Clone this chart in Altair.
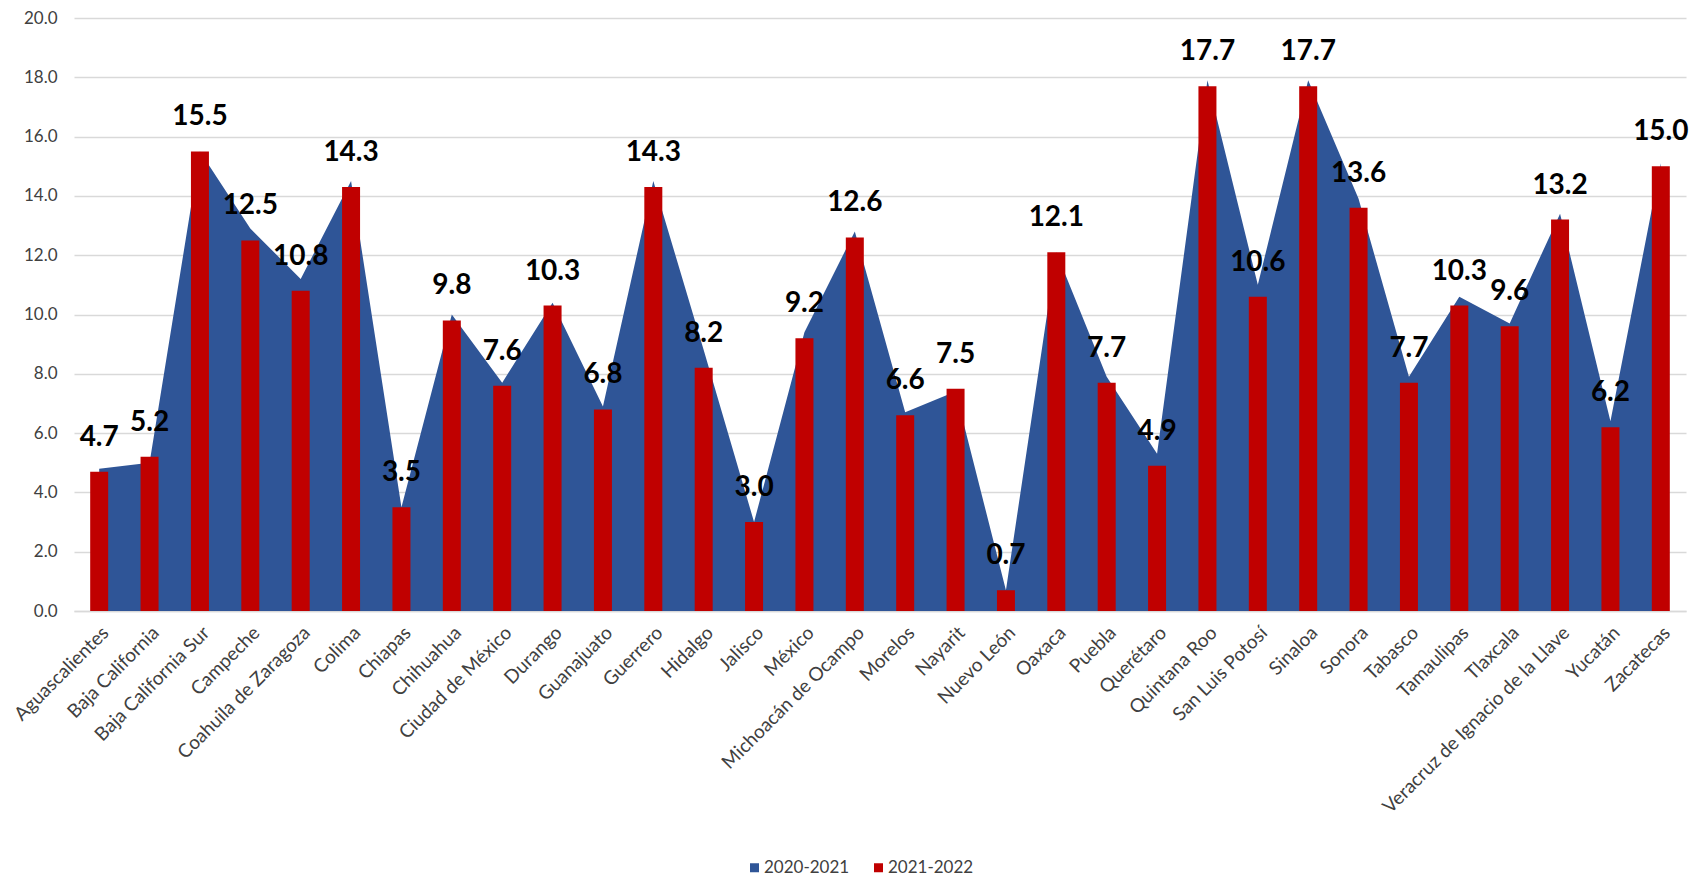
import altair as alt
import pandas as pd

states = ["Aguascalientes", "Baja California", "Baja California Sur", "Campeche",
          "Coahuila de Zaragoza", "Colima", "Chiapas", "Chihuahua", "Ciudad de México",
          "Durango", "Guanajuato", "Guerrero", "Hidalgo", "Jalisco", "México",
          "Michoacán de Ocampo", "Morelos", "Nayarit", "Nuevo León", "Oaxaca", "Puebla",
          "Querétaro", "Quintana Roo", "San Luis Potosí", "Sinaloa", "Sonora", "Tabasco",
          "Tamaulipas", "Tlaxcala", "Veracruz de Ignacio de la Llave", "Yucatán", "Zacatecas"]

v2020_2021 = [4.8, 5.0, 15.5, 12.9, 11.2, 14.5, 3.5, 10.0, 7.7, 10.4, 6.9, 14.5, 8.8, 3.0,
              9.4, 12.8, 6.7, 7.4, 0.7, 12.1, 7.9, 5.3, 17.9, 11.0, 17.9, 13.9, 7.9, 10.6,
              9.7, 13.4, 6.4, 15.1]

v2021_2022 = [4.7, 5.2, 15.5, 12.5, 10.8, 14.3, 3.5, 9.8, 7.6, 10.3, 6.8, 14.3, 8.2, 3.0,
              9.2, 12.6, 6.6, 7.5, 0.7, 12.1, 7.7, 4.9, 17.7, 10.6, 17.7, 13.6, 7.7, 10.3,
              9.6, 13.2, 6.2, 15.0]

series_names = ["2020-2021", "2021-2022"]
y_ticks = [0, 2, 4, 6, 8, 10, 12, 14, 16, 18, 20]

rows = []
for s, a, b in zip(states, v2020_2021, v2021_2022):
    rows.append({"estado": s, "serie": series_names[0], "valor": a})
    rows.append({"estado": s, "serie": series_names[1], "valor": b})
df = pd.DataFrame(rows)

FONT = "Lato"

x_enc = alt.X("estado:N", sort=states, title=None,
              scale=alt.Scale(paddingInner=0, paddingOuter=0),
              axis=alt.Axis(labelAngle=-45, labelFontSize=19,
                            labelColor="#404040", labelFont=FONT, ticks=False,
                            domainColor="#D9D9D9", domainWidth=1.5, labelPadding=12,
                            labelOverlap=False, labelLimit=0))
y_enc = alt.Y("valor:Q", title=None,
              scale=alt.Scale(domain=[0, 20], nice=False),
              axis=alt.Axis(values=y_ticks, format=".1f", labelFontSize=17, labelFont=FONT,
                            labelColor="#404040", gridColor="#D9D9D9", gridWidth=1.5,
                            domain=False, ticks=False, labelPadding=17))
color_enc = alt.Color("serie:N", title=None,
                      scale=alt.Scale(domain=series_names, range=["#2F5597", "#C00000"]),
                      legend=alt.Legend(orient="none", legendX=672, legendY=841,
                                        direction="horizontal", symbolType="square",
                                        symbolSize=81, symbolStrokeWidth=0,
                                        labelFontSize=17, labelFont=FONT, labelOffset=1,
                                        labelColor="#404040", columnPadding=20))

base = alt.Chart(df).encode(x=x_enc)

area = base.transform_filter(alt.datum.serie == series_names[0]).mark_area(
    opacity=1, interpolate="linear").encode(y=y_enc, color=color_enc)

bars = base.transform_filter(alt.datum.serie == series_names[1]).mark_bar(
    size=18).encode(y=y_enc, color=color_enc)

labels = base.transform_filter(alt.datum.serie == series_names[1]).mark_text(
    font=FONT, fontSize=28, fontWeight="bold", color="#000000",
    baseline="alphabetic", align="center", dy=-26).encode(
    y=alt.Y("valor:Q"), text=alt.Text("valor:Q", format=".1f"))

chart = alt.layer(area, bars, labels).properties(
    width=1612, height=593,
    autosize=alt.AutoSizeParams(type="none"),
    padding={"left": 74, "top": 18, "right": 18, "bottom": 266},
    background="white"
).configure_view(stroke=None)

chart.save("out.html", embed_options={"renderer": "svg", "actions": False})
